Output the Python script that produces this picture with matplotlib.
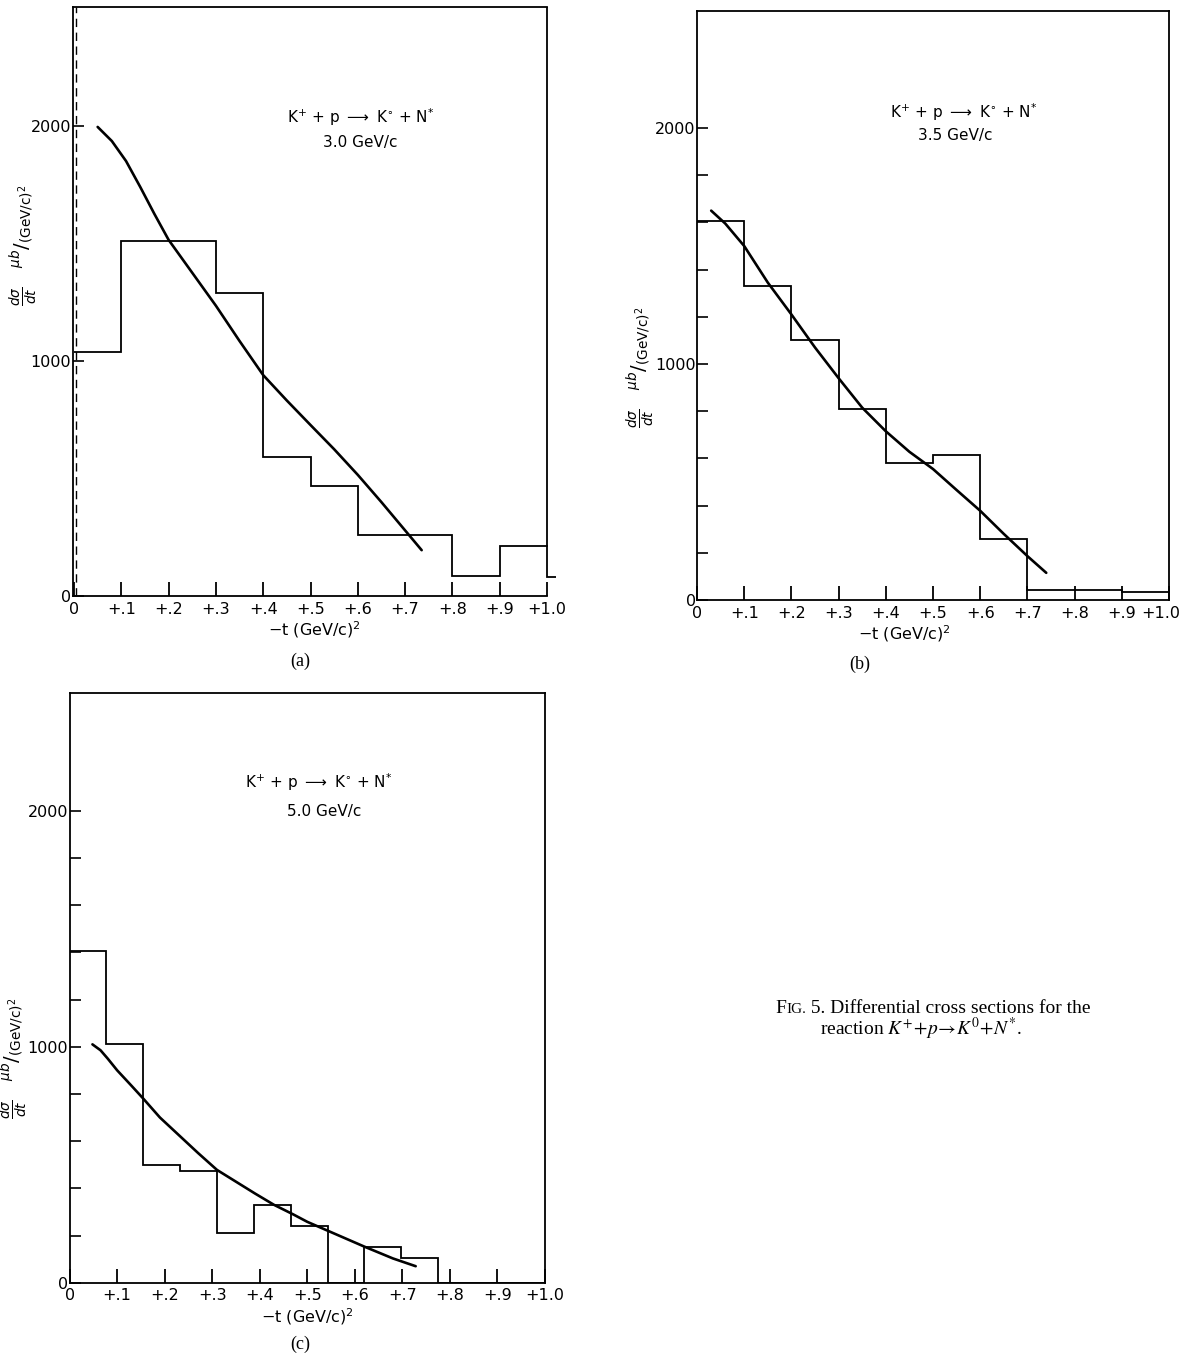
import matplotlib
matplotlib.use("Agg")
import matplotlib.pyplot as plt
from matplotlib.font_manager import FontProperties
from matplotlib.transforms import offset_copy, ScaledTranslation

plt.rcParams["font.family"] = "DejaVu Sans"

# ---------------------------------------------------------------- data
t_ticks = [0.0, 0.1, 0.2, 0.3, 0.4, 0.5, 0.6, 0.7, 0.8, 0.9, 1.0]
t_tick_labels = ["0", "+.1", "+.2", "+.3", "+.4", "+.5", "+.6", "+.7", "+.8", "+.9", "+1.0"]
sigma_labels = ["0", "1000", "2000"]

# (a) 3.0 GeV/c
a_edges = [0.0, 0.1, 0.2, 0.3, 0.4, 0.5, 0.6, 0.7, 0.8, 0.9, 1.0, 1.1]
a_counts = [1040, 1510, 1510, 1290, 590, 470, 260, 260, 85, 215, 80]
a_fit_t = [0.05, 0.08, 0.11, 0.14, 0.17, 0.20, 0.25, 0.30, 0.35, 0.40,
           0.45, 0.50, 0.55, 0.60, 0.65, 0.70, 0.735]
a_fit_sigma = [1995, 1935, 1850, 1740, 1625, 1515, 1375, 1235, 1085, 940,
               832, 728, 625, 516, 400, 280, 196]

# (b) 3.5 GeV/c
b_edges = [0.0, 0.1, 0.2, 0.3, 0.4, 0.5, 0.6, 0.7, 0.8, 0.9, 1.0]
b_counts = [1605, 1330, 1100, 808, 582, 613, 257, 42, 42, 35]
b_fit_t = [0.03, 0.06, 0.10, 0.15, 0.20, 0.25, 0.30, 0.35, 0.40, 0.45,
           0.50, 0.55, 0.60, 0.65, 0.70, 0.74]
b_fit_sigma = [1650, 1595, 1500, 1345, 1210, 1070, 940, 815, 715, 628,
               555, 466, 378, 280, 186, 115]

# (c) 5.0 GeV/c
c_edges = [0.0, 0.0775, 0.155, 0.2325, 0.31, 0.3875, 0.465, 0.5425, 0.62,
           0.6975, 0.775, 1.0]
c_counts = [1407, 1011, 497, 475, 209, 328, 240, 0, 153, 103, 0]
c_fit_t = [0.048, 0.065, 0.08, 0.10, 0.13, 0.155, 0.19, 0.23, 0.27, 0.31,
           0.35, 0.39, 0.43, 0.47, 0.50, 0.54, 0.58, 0.62, 0.68, 0.728]
c_fit_sigma = [1010, 985, 950, 900, 835, 780, 700, 625, 550, 478,
               428, 378, 330, 290, 258, 223, 188, 153, 103, 70]

reaction = r"K$^{+}$ + p $\longrightarrow$ K$^{\circ}$ + N$^{*}$"
momenta = ["3.0 GeV/c", "3.5 GeV/c", "5.0 GeV/c"]
panel_tags = ["(a)", "(b)", "(c)"]

# ---------------------------------------------------------------- figure
fig = plt.figure(figsize=(11.84, 13.62), dpi=100)

ax_a = fig.add_axes([0.0613, 0.5622, 0.4087, 0.4327])
ax_b = fig.add_axes([0.5887, 0.5595, 0.3986, 0.4324])
ax_c = fig.add_axes([0.0588, 0.0582, 0.4015, 0.4332])

LW_FRAME = 1.3
LW_HIST = 1.3
LW_FIT = 1.9
TICK_FS = 11.5
XLABEL = r"$-$t (GeV/c)$^{2}$"


def style_axes(ax, ytop, yminor, xlabel_x=0.5):
    ax.set_ylim(0, ytop)
    for sp in ax.spines.values():
        sp.set_linewidth(LW_FRAME)
    ax.set_xticks(t_ticks)
    ax.set_xticklabels(t_tick_labels, fontsize=TICK_FS)
    ax.set_yticks([0, 1000, 2000])
    ax.set_yticklabels(sigma_labels, fontsize=TICK_FS)
    if yminor:
        ax.set_yticks([200, 400, 600, 800, 1200, 1400, 1600, 1800], minor=True)
    ax.tick_params(axis="x", direction="in", length=10, width=1.3, pad=4)
    ax.tick_params(axis="y", which="both", direction="in", length=8, width=1.2, pad=1)
    ax.set_xlabel(XLABEL, fontsize=11.5, labelpad=2, x=xlabel_x)


# (a)
style_axes(ax_a, 2505, False)
ax_a.set_xlim(-0.003, 1.02)
ax_a.spines["bottom"].set_bounds(-0.003, 1.0)
ax_a.spines["top"].set_bounds(-0.003, 1.0)
ax_a.spines["right"].set_visible(False)
ax_a.plot([1.0, 1.0], [a_counts[-2], 2505], color="black", lw=LW_FRAME)
ax_a.axvline(0.005, color="black", lw=1.0, ls=(0, (6, 4)))
ax_a.stairs(a_counts, a_edges, baseline=None, color="black", lw=LW_HIST)
ax_a.plot(a_fit_t, a_fit_sigma, color="black", lw=LW_FIT, solid_capstyle="round")
ax_a.text(0.606, 2035, reaction, ha="center", va="center", fontsize=11)
ax_a.text(0.606, 1930, momenta[0], ha="center", va="center", fontsize=11)

# (b)
style_axes(ax_b, 2496, True, xlabel_x=0.44)
ax_b.set_xlim(0, 1.0)
ax_b.stairs(b_counts, b_edges, baseline=None, color="black", lw=LW_HIST)
ax_b.plot(b_fit_t, b_fit_sigma, color="black", lw=LW_FIT, solid_capstyle="round")
ax_b.text(0.566, 2068, reaction, ha="center", va="center", fontsize=11)
ax_b.text(0.547, 1970, momenta[1], ha="center", va="center", fontsize=11)
# keep the last tick label of (b) inside the page
last = ax_b.get_xticklabels()[-1]
last.set_transform(last.get_transform() + ScaledTranslation(-6 / 72, 0, fig.dpi_scale_trans))

# (c)
style_axes(ax_c, 2500, True)
ax_c.set_xlim(0, 1.0)
ax_c.stairs(c_counts, c_edges, baseline=None, color="black", lw=LW_HIST)
ax_c.plot(c_fit_t, c_fit_sigma, color="black", lw=LW_FIT, solid_capstyle="round")
ax_c.text(0.524, 2123, reaction, ha="center", va="center", fontsize=11)
ax_c.text(0.535, 1996, momenta[2], ha="center", va="center", fontsize=11)

# vertical axis titles
ylab = (r"$\frac{d\sigma}{dt}$" + "   "
        + r"$^{\mu b}/_{(\mathrm{GeV/c})^{2}}$")
for (fx, fy) in [(0.0200, 0.8200), (0.5415, 0.7300), (0.0120, 0.2230)]:
    fig.text(fx, fy, ylab, rotation=90, ha="center", va="center", fontsize=14)

# panel tags
serif = FontProperties(family=["Liberation Serif", "DejaVu Serif"], size=13)
fig.text(300 / 1184, 1 - 661 / 1362, panel_tags[0], ha="center", va="center", fontproperties=serif)
fig.text(860 / 1184, 1 - 664 / 1362, panel_tags[1], ha="center", va="center", fontproperties=serif)
fig.text(300 / 1184, 1 - 1344 / 1362, panel_tags[2], ha="center", va="center", fontproperties=serif)

# caption: small-capitals "FIG." followed by the running text
cap = FontProperties(family=["Liberation Serif", "DejaVu Serif"], size=14)
cap_small = FontProperties(family=["Liberation Serif", "DejaVu Serif"], size=11)
renderer = fig.canvas.get_renderer()
y1 = 1 - 1013 / 1362
t_f = fig.text(775 / 1184, y1, "F", ha="left", va="baseline", fontproperties=cap)
w_f = t_f.get_window_extent(renderer).width
t_ig = fig.text(775 / 1184, y1, "IG.", ha="left", va="baseline", fontproperties=cap_small,
                transform=offset_copy(fig.transFigure, fig=fig, x=w_f + 0.5, units="dots"))
w_ig = t_ig.get_window_extent(renderer).width
fig.text(775 / 1184, y1, " 5. Differential cross sections for the", ha="left", va="baseline",
         fontproperties=cap,
         transform=offset_copy(fig.transFigure, fig=fig, x=w_f + w_ig + 0.5, units="dots"))
fig.text(921 / 1184, 1 - 1035 / 1362,
         r"reaction $K^{+}\!+\!p\!\rightarrow\! K^{0}\!+\!N^{*}$.",
         ha="center", va="baseline", fontproperties=cap, math_fontfamily="stix")

fig.savefig("out.png", dpi=100)
